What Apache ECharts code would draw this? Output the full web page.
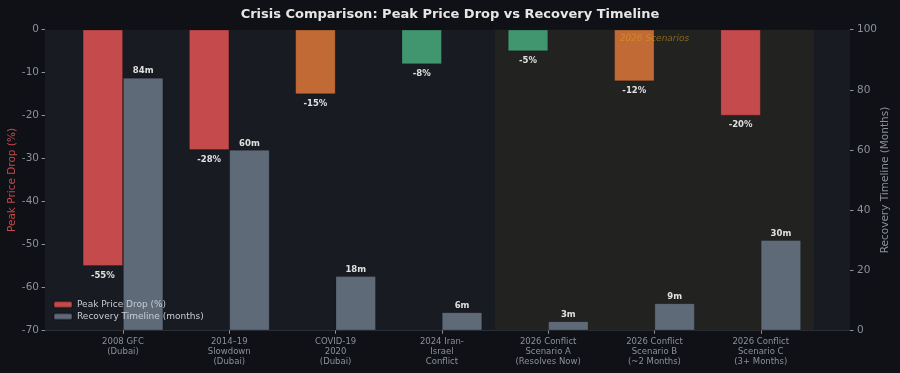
<!DOCTYPE html>
<html><head><meta charset="utf-8">
<script src="https://cdn.jsdelivr.net/npm/echarts@6/dist/echarts.min.js"></script>
<style>html,body{margin:0;padding:0;background:#0f1116;}#c{width:900px;height:373px;}</style>
</head><body><div id="c"></div>
<script>
const categories = [
  "2008 GFC\n(Dubai)",
  "2014–19\nSlowdown\n(Dubai)",
  "COVID-19\n2020\n(Dubai)",
  "2024 Iran-\nIsrael\nConflict",
  "2026 Conflict\nScenario A\n(Resolves Now)",
  "2026 Conflict\nScenario B\n(~2 Months)",
  "2026 Conflict\nScenario C\n(3+ Months)"
];
const priceDrop = [-55, -28, -15, -8, -5, -12, -20];
const recoveryMonths = [84, 60, 18, 6, 3, 9, 30];
const leftTicks = {min: -70, max: 0, interval: 10};
const rightTicks = {min: 0, max: 100, interval: 20};
const scenarioStart = 4, scenarioEnd = 6;
const scenarioLabel = '2026 Scenarios';

const RED = '#c44a4b', ORANGE = '#c26a35', GREEN = '#42966f', GREY = '#5f6a79';
function dropColor(v){ return v <= -20 ? RED : (v <= -10 ? ORANGE : GREEN); }
const FONT = '"DejaVu Sans", sans-serif';
const TICK = '#8b909a';

const chart = echarts.init(document.getElementById('c'));
chart.setOption({
  backgroundColor: '#0f1116',
  animation: false,
  textStyle: {fontFamily: FONT},
  title: {
    text: 'Crisis Comparison: Peak Price Drop vs Recovery Timeline',
    left: 'center', top: 3,
    textStyle: {color: '#e6e6e6', fontSize: 13, fontWeight: 'bold', fontFamily: FONT}
  },
  legend: {
    orient: 'vertical', left: 45, top: 296, padding: [4, 8],
    itemWidth: 18, itemHeight: 6, itemGap: 3,
    textStyle: {color: '#c8ccd2', fontSize: 9, fontFamily: FONT},
    data: [
      {name: 'Peak Price Drop (%)', itemStyle: {color: RED}},
      {name: 'Recovery Timeline (months)', itemStyle: {color: GREY}}
    ]
  },
  grid: [
    {left: 69.85, right: 86.1, top: 29.7, bottom: 42.7, show: false, containLabel: false, outerBoundsMode: 'none'},
    {left: 45, right: 50, top: 29.7, bottom: 42.7, show: true, backgroundColor: '#181b21', borderWidth: 0, z: -1, containLabel: false, outerBoundsMode: 'none'}
  ],
  xAxis: [
    {type: 'category', gridIndex: 0, data: categories, boundaryGap: true, position: 'bottom',
     axisLine: {show: false, onZero: false},
     axisTick: {show: true, alignWithLabel: true, length: 3.5, lineStyle: {color: TICK}},
     axisLabel: {color: TICK, fontSize: 8.5, lineHeight: 10, margin: 6, interval: 0, fontFamily: FONT}},
    {type: 'value', gridIndex: 1, min: 0, max: 1, position: 'bottom',
     axisLine: {show: true, onZero: false, lineStyle: {color: '#2b2f38'}}, axisTick: {show: false},
     axisLabel: {show: false}, splitLine: {show: false}},
    {type: 'value', gridIndex: 0, min: -0.5, max: categories.length - 0.5, show: false}
  ],
  yAxis: [
    {type: 'value', gridIndex: 0, position: 'left', offset: 24.85,
     min: leftTicks.min, max: leftTicks.max, interval: leftTicks.interval,
     name: 'Peak Price Drop (%)', nameLocation: 'middle', nameGap: 27, nameMoveOverlap: false,
     nameTextStyle: {color: RED, fontSize: 10.5, fontFamily: FONT},
     axisLine: {show: false, onZero: false},
     axisTick: {show: true, length: 3.5, lineStyle: {color: TICK}},
     axisLabel: {color: TICK, fontSize: 10.5, margin: 6, fontFamily: FONT},
     splitLine: {show: false}},
    {type: 'value', gridIndex: 0, position: 'right', offset: 36.1,
     min: rightTicks.min, max: rightTicks.max, interval: rightTicks.interval,
     name: 'Recovery Timeline (Months)', nameLocation: 'middle', nameGap: 30, nameMoveOverlap: false,
     nameTextStyle: {color: TICK, fontSize: 10.5, fontFamily: FONT},
     axisLine: {show: false, onZero: false},
     axisTick: {show: true, length: 3.5, lineStyle: {color: TICK}},
     axisLabel: {color: TICK, fontSize: 10.5, margin: 7, fontFamily: FONT},
     splitLine: {show: false}},
    {type: 'value', gridIndex: 1, min: 0, max: 1, show: false}
  ],
  series: [
    {
      name: 'scenarioShade', type: 'line', xAxisIndex: 2, yAxisIndex: 0, data: [], z: 1,
      markArea: {
        silent: true,
        itemStyle: {color: '#222321'},
        label: {show: false},
        data: [[{xAxis: scenarioStart - 0.5}, {xAxis: scenarioEnd + 0.5}]]
      }
    },
    {
      name: 'Peak Price Drop (%)', type: 'bar', xAxisIndex: 0, yAxisIndex: 0,
      barWidth: 40.3, barGap: '0%', z: 2,
      data: priceDrop.map(v => ({value: v, itemStyle: {color: dropColor(v)}})),
      itemStyle: {borderColor: 'rgba(0,0,0,0.25)', borderWidth: 0.8},
      label: {show: true, position: 'bottom', distance: 5, formatter: p => p.value + '%',
              color: '#e0e0e0', fontSize: 8.5, fontWeight: 'bold', fontFamily: FONT}
    },
    {
      name: 'Recovery Timeline (months)', type: 'bar', xAxisIndex: 0, yAxisIndex: 1,
      barWidth: 40.3, barGap: '0%', z: 2,
      data: recoveryMonths,
      itemStyle: {color: GREY, borderColor: 'rgba(0,0,0,0.25)', borderWidth: 0.8},
      label: {show: true, position: 'top', distance: 2, formatter: p => p.value + 'm',
              color: '#e0e0e0', fontSize: 8.5, fontWeight: 'bold', fontFamily: FONT}
    },
    {
      name: 'scenarioText', type: 'scatter', xAxisIndex: 2, yAxisIndex: 0, z: 10, zlevel: 1,
      symbolSize: 1, itemStyle: {color: 'rgba(0,0,0,0)'}, silent: true,
      data: [[(scenarioStart + scenarioEnd) / 2, leftTicks.max]],
      label: {show: true, position: 'bottom', distance: 4, formatter: scenarioLabel,
              color: 'rgba(218,165,32,0.65)', fontSize: 9, fontStyle: 'italic', fontFamily: FONT}
    }
  ]
});
</script></body></html>
